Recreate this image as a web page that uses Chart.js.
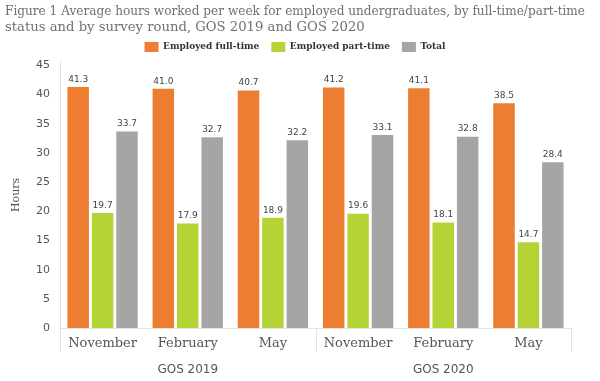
<!DOCTYPE html>
<html>
<head>
<meta charset="utf-8">
<script src="https://cdn.jsdelivr.net/npm/chart.js@4"></script>
<style>
html,body{margin:0;padding:0;background:#fff;}
#wrap{width:600px;height:381px;position:relative;}
</style>
</head>
<body>
<div id="wrap"><canvas id="c" width="600" height="381"></canvas></div>
<script>
const categories = ['November','February','May','November','February','May'];
const groups = ['GOS 2019','GOS 2020'];
const fullTime = [41.3, 41.0, 40.7, 41.2, 41.1, 38.5];
const partTime = [19.7, 17.9, 18.9, 19.6, 18.1, 14.7];
const total = [33.7, 32.7, 32.2, 33.1, 32.8, 28.4];
const seriesNames = ['Employed full-time','Employed part-time','Total'];
const yTicks = [0,5,10,15,20,25,30,35,40,45];
const titleLines = ['Figure 1 Average hours worked per week for employed undergraduates, by full-time/part-time','status and by survey round, GOS 2019 and GOS 2020'];

const valueLabels = {
  id:'valueLabels',
  afterDatasetsDraw(chart){
    const ctx = chart.ctx;
    ctx.save();
    ctx.font = '9px "DejaVu Sans"';
    ctx.fillStyle = '#444';
    ctx.textAlign = 'center';
    ctx.textBaseline = 'bottom';
    chart.data.datasets.forEach((ds,i)=>{
      chart.getDatasetMeta(i).data.forEach((el,j)=>{
        ctx.fillText(ds.data[j].toFixed(1), el.x, el.y - 3);
      });
    });
    ctx.restore();
  }
};
const separators = {
  id:'separators',
  afterDraw(chart){
    const x = chart.scales.x, ctx = chart.ctx;
    const bottom = chart.chartArea.bottom;
    ctx.save();
    ctx.strokeStyle = '#e4e4e4';
    ctx.lineWidth = 1;
    [-0.5, 2.5, 5.5].forEach(v=>{
      const px = Math.round(x.getPixelForValue(v)) + 0.5;
      ctx.beginPath(); ctx.moveTo(px, bottom); ctx.lineTo(px, bottom + 24); ctx.stroke();
    });
    ctx.restore();
  }
};

new Chart(document.getElementById('c'), {
  type:'bar',
  data:{
    labels: categories,
    datasets:[
      {label:seriesNames[0], data:fullTime, backgroundColor:'#ED7D31'},
      {label:seriesNames[1], data:partTime, backgroundColor:'#B4D334'},
      {label:seriesNames[2], data:total, backgroundColor:'#A5A5A5'}
    ]
  },
  options:{
    responsive:false,
    animation:false,
    devicePixelRatio:1,
    layout:{padding:{left:5,right:15,top:2,bottom:1}},
    datasets:{bar:{categoryPercentage:0.86, barPercentage:0.88}},
    plugins:{
      title:{display:true, text:titleLines, align:'start', color:'#707070',
        font:{family:'"DejaVu Serif"', size:13.2, weight:'normal', lineHeight:1.21}, padding:{top:2,bottom:-6}},
      legend:{display:true, position:'top',
        labels:{boxWidth:14, boxHeight:10, padding:12, color:'#333',
          font:{family:'"DejaVu Serif"', size:9, weight:'bold'}}},
      tooltip:{enabled:false}
    },
    scales:{
      x:{
        grid:{display:false},
        border:{display:true,color:'#e4e4e4'},
        ticks:{color:'#555', padding:0, font:{family:'"DejaVu Serif"', size:13}}
      },
      x2:{
        type:'category', labels:groups, position:'bottom', offset:true,
        grid:{display:false}, border:{display:false},
        ticks:{color:'#555', padding:3, font:{family:'"DejaVu Sans"', size:12}}
      },
      y:{
        min:0, max:45.6,
        afterBuildTicks(s){ s.ticks = yTicks.map(v=>({value:v})); },
        afterFit(s){ s.width = 55; },
        grid:{display:false},
        border:{display:true,color:'#e0e0e0'},
        title:{display:true, text:'Hours', color:'#555', padding:{top:5,bottom:6}, font:{family:'"DejaVu Serif"', size:11}},
        ticks:{color:'#555', padding:2, font:{family:'"DejaVu Sans"', size:11}}
      },
      yRight:{
        position:'right', min:0, max:45.6,
        afterFit(s){ s.width = 14; },
        grid:{display:false}, border:{display:false},
        ticks:{display:false}
      }
    }
  },
  plugins:[valueLabels, separators]
});
</script>
</body>
</html>
